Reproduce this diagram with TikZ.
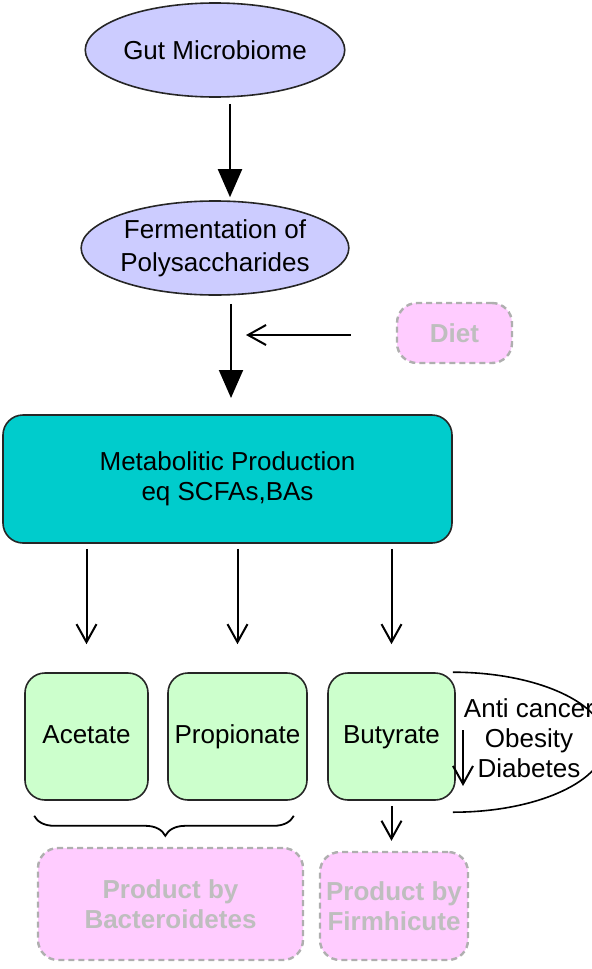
\documentclass[tikz,border=0pt]{standalone}
\usepackage{fontspec}
\setmainfont{Liberation Sans}
\usepackage{tikz}
\usetikzlibrary{arrows.meta,shapes.geometric,decorations.pathreplacing}
\definecolor{lavender}{RGB}{204,204,255}
\definecolor{tealbox}{RGB}{0,204,204}
\definecolor{mint}{RGB}{204,255,204}
\definecolor{pinkbox}{RGB}{255,204,255}
\definecolor{ghosttext}{RGB}{190,190,190}
\definecolor{ghostline}{RGB}{175,175,175}

\begin{document}
\begin{tikzpicture}[x=0.5pt, y=-0.5pt,
    every node/.style={font=\fontsize{13}{15}\selectfont, inner sep=0pt, align=center},
    oval/.style={ellipse, draw=black!85, line width=0.8pt, fill=lavender, minimum width=117.5pt, minimum height=47pt},
    metabox/.style={draw=black!85, line width=0.8pt, fill=tealbox, rounded corners=10pt, minimum width=224.5pt, minimum height=64pt},
    acid/.style={draw=black!85, line width=0.8pt, fill=mint, rounded corners=10pt, minimum height=63.5pt, text height=9.5pt, text depth=2.5pt},
    ghost/.style={draw=ghostline, dash pattern=on 3pt off 2pt, line width=1.2pt, fill=pinkbox, rounded corners=10pt, text=ghosttext, font=\fontsize{13}{15}\selectfont\bfseries},
    bigtip/.style={-{Triangle[length=14pt,width=12pt]}, line width=1pt},
    opentip/.style={-{Straight Barb[length=9pt,width=10pt]}, line width=1pt}]
      \useasboundingbox (0,0) rectangle (591,969);

      % Top chain
      \node[oval] (gut) at (215,50) {Gut Microbiome};
      \node[oval, font=\fontsize{13}{16.5}\selectfont] (ferm) at (215,248) {Fermentation of\\Polysaccharides};
      \node[ghost, minimum width=57.5pt, minimum height=30pt] (diet) at (454.5,333) {Diet};
      \coordinate (dietend) at (246,335);

      \draw[bigtip, shorten <=3pt, shorten >=1.5pt] ([xshift=7.5pt]gut.south) -- ([xshift=7.5pt]ferm.north);
      \draw[bigtip, shorten <=4pt, shorten >=8.5pt] ([xshift=8pt]ferm.south) -- ([xshift=8pt]ferm.south |- 0,415);
      \draw[opentip, shorten <=22.5pt] (diet.west |- dietend) -- (dietend);

      % Metabolites
      \node[metabox] (meta) at (227.5,479) {Metabolitic Production\\eq SCFAs,BAs};
      \node[acid, minimum width=61.5pt] (acetate) at (86.5,736.5) {Acetate};
      \node[acid, minimum width=69.5pt] (propionate) at (237.5,736.5) {Propionate};
      \node[acid, minimum width=63.5pt] (butyrate) at (391.5,736.5) {Butyrate};
      \foreach \n in {acetate,propionate,butyrate}
        \draw[opentip, shorten <=2.5pt, shorten >=14pt] (meta.south -| \n) -- (\n.north);

      % Effects of butyrate
      \node (effects) at (529,738) {Anti cancer\\Obesity\\Diabetes};
      \draw[line width=0.8pt] ([xshift=-1.5pt]butyrate.north east) arc[start angle=90, end angle=-90, x radius=76.5pt, y radius=35pt];
      \coordinate (effA) at (463,730); \coordinate (effB) at (463,786);
      \draw[opentip] (effA) -- (effB);

      % Producers
      \node[ghost, minimum width=132.5pt, minimum height=56pt] (bacter) at (170.5,904) {Product by\\Bacteroidetes};
      \node[ghost, minimum width=74pt, minimum height=54pt] (firmi) at (394,906) {Product by\\Firmhicute};
      \draw[decorate, decoration={brace, mirror, amplitude=10pt, aspect=0.505}, line width=0.9pt]
        ([shift={(5pt,-7.5pt)}]acetate.south west) -- ([shift={(-7pt,-7.5pt)}]propionate.south east);
      \draw[opentip, shorten <=2.5pt, shorten >=5pt] (butyrate.south) -- (butyrate.south |- firmi.north);
    \end{tikzpicture}
\end{document}
